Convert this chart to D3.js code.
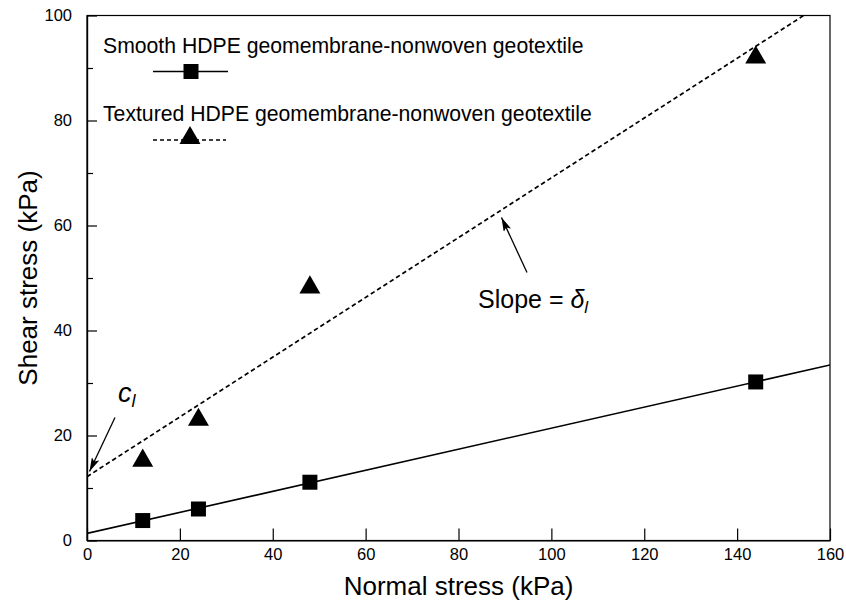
<!DOCTYPE html>
<meta charset="utf-8">
<style>
  body { margin: 0; background: #fff; }
  text { font-family: "Liberation Sans", Arial, Helvetica, sans-serif; fill: #000; }
  .axis text { font-size: 16.5px; }
  .axis path, .axis line { fill: none; stroke: #000; stroke-width: 1.2px; }
</style>
<body>
<div id="chart"></div>
<script src="https://cdnjs.cloudflare.com/ajax/libs/d3/7.8.5/d3.min.js"></script>
<script>
  // data
  var normalStress = [12, 24, 48, 144];
  var smoothShear = [3.8, 6.0, 11.1, 30.2];
  var texturedShear = [15.2, 23.0, 48.2, 92.0];
  var seriesNames = ["Smooth HDPE geomembrane-nonwoven geotextile",
    "Textured HDPE geomembrane-nonwoven geotextile"];
  var xTicks = [0, 20, 40, 60, 80, 100, 120, 140, 160];
  var yTicks = [0, 20, 40, 60, 80, 100];
  var yMinorTicks = [10, 30, 50, 70, 90];

  var width = 846, height = 606;
  var margin = { top: 15.5, right: 16, bottom: 65.5, left: 87 };
  var w = width - margin.left - margin.right,
    h = height - margin.top - margin.bottom;

  var x = d3.scaleLinear().domain([0, 160]).range([0, w]);
  var y = d3.scaleLinear().domain([0, 100]).range([h, 0]);

  // least squares fit for each series
  function fit(xs, ys) {
    var mx = d3.mean(xs), my = d3.mean(ys);
    var sxy = d3.sum(xs, function (d, i) { return (d - mx) * (ys[i] - my); });
    var sxx = d3.sum(xs, function (d) { return (d - mx) * (d - mx); });
    var b = sxy / sxx;
    return { a: my - b * mx, b: b };
  }

  var svg = d3.select("#chart").append("svg")
    .attr("width", width)
    .attr("height", height);

  var defs = svg.append("defs");
  defs.append("clipPath").attr("id", "clip")
    .append("rect").attr("width", w).attr("height", h);
  defs.append("marker")
    .attr("id", "arrow")
    .attr("viewBox", "0 0 14 8")
    .attr("refX", 14).attr("refY", 4)
    .attr("markerWidth", 14).attr("markerHeight", 8)
    .attr("markerUnits", "userSpaceOnUse")
    .attr("orient", "auto")
    .append("path")
    .attr("d", "M0,0 L14,4 L0,8 L3,4 Z")
    .attr("fill", "#000");

  var g = svg.append("g")
    .attr("transform", "translate(" + margin.left + "," + margin.top + ")");

  // frame
  g.append("rect")
    .attr("width", w).attr("height", h)
    .attr("fill", "none").attr("stroke", "#000").attr("stroke-width", 1.2);

  g.append("g").attr("class", "axis")
    .attr("transform", "translate(0," + h + ")")
    .call(d3.axisBottom(x).tickValues(xTicks).tickSizeInner(-12).tickSizeOuter(0).tickPadding(8));

  g.append("g").attr("class", "axis")
    .call(d3.axisLeft(y).tickValues(yTicks).tickSizeInner(-10).tickSizeOuter(0).tickPadding(15));

  g.append("g").attr("class", "axis")
    .call(d3.axisLeft(y).tickValues(yMinorTicks).tickSizeInner(-6).tickSizeOuter(0).tickFormat(""));

  // fit lines
  var plot = g.append("g").attr("clip-path", "url(#clip)");
  var fs = fit(normalStress, smoothShear),
    ft = fit(normalStress, texturedShear);
  var line = d3.line().x(function (d) { return x(d[0]); }).y(function (d) { return y(d[1]); });

  plot.append("path")
    .datum([[0, fs.a], [160, fs.a + fs.b * 160]])
    .attr("d", line)
    .attr("fill", "none").attr("stroke", "#000").attr("stroke-width", 1.6);

  plot.append("path")
    .datum([[0, ft.a], [160, ft.a + ft.b * 160]])
    .attr("d", line)
    .attr("fill", "none").attr("stroke", "#000").attr("stroke-width", 1.7)
    .attr("stroke-dasharray", "4.5,3");

  // markers
  var square = d3.symbol().type(d3.symbolSquare).size(225);
  var triangle = d3.symbol().type(d3.symbolTriangle).size(190);

  g.selectAll(".sq").data(normalStress).enter().append("path")
    .attr("class", "sq")
    .attr("d", square)
    .attr("transform", function (d, i) { return "translate(" + x(d) + "," + y(smoothShear[i]) + ")"; });

  g.selectAll(".tri").data(normalStress).enter().append("path")
    .attr("class", "tri")
    .attr("d", triangle)
    .attr("transform", function (d, i) { return "translate(" + x(d) + "," + y(texturedShear[i]) + ")"; });

  // legend
  var leg = g.append("g").attr("transform", "translate(16,0)");
  leg.append("text").attr("x", 0).attr("y", 37.5).style("font-size", "21.2px").text(seriesNames[0]);
  leg.append("line").attr("x1", 50).attr("x2", 125).attr("y1", 56).attr("y2", 56)
    .attr("stroke", "#000").attr("stroke-width", 1.6);
  leg.append("path").attr("d", square).attr("transform", "translate(88,56)");

  leg.append("text").attr("x", 0).attr("y", 105.5).style("font-size", "21.2px").text(seriesNames[1]);
  leg.append("line").attr("x1", 50).attr("x2", 123).attr("y1", 124.5).attr("y2", 124.5)
    .attr("stroke", "#000").attr("stroke-width", 1.4).attr("stroke-dasharray", "4,3");
  leg.append("path").attr("d", triangle).attr("transform", "translate(87,122.5)");

  // annotations
  var slopeText = g.append("text")
    .attr("x", 391).attr("y", 292.5)
    .style("font-size", "25px");
  slopeText.append("tspan").text("Slope = ");
  slopeText.append("tspan").style("font-style", "italic").text("δ");
  slopeText.append("tspan").style("font-style", "italic").style("font-size", "17px")
    .attr("dy", 5).text("l");

  g.append("line")
    .attr("x1", 440).attr("y1", 257).attr("x2", 414.5).attr("y2", 202)
    .attr("stroke", "#000").attr("stroke-width", 1.3)
    .attr("marker-end", "url(#arrow)");

  var cText = g.append("text")
    .attr("x", 31).attr("y", 386)
    .style("font-size", "27px").style("font-style", "italic");
  cText.append("tspan").text("c");
  cText.append("tspan").style("font-size", "18px").attr("dy", 5).text("l");

  g.append("line")
    .attr("x1", 28).attr("y1", 402).attr("x2", 2.5).attr("y2", 456)
    .attr("stroke", "#000").attr("stroke-width", 1.3)
    .attr("marker-end", "url(#arrow)");

  // axis titles
  svg.append("text")
    .attr("x", margin.left + w / 2).attr("y", height - 11)
    .attr("text-anchor", "middle")
    .style("font-size", "26px")
    .text("Normal stress (kPa)");

  svg.append("text")
    .attr("transform", "translate(37," + (margin.top + h / 2) + ") rotate(-90)")
    .attr("text-anchor", "middle")
    .style("font-size", "26px")
    .text("Shear stress (kPa)");
</script>
</body>
